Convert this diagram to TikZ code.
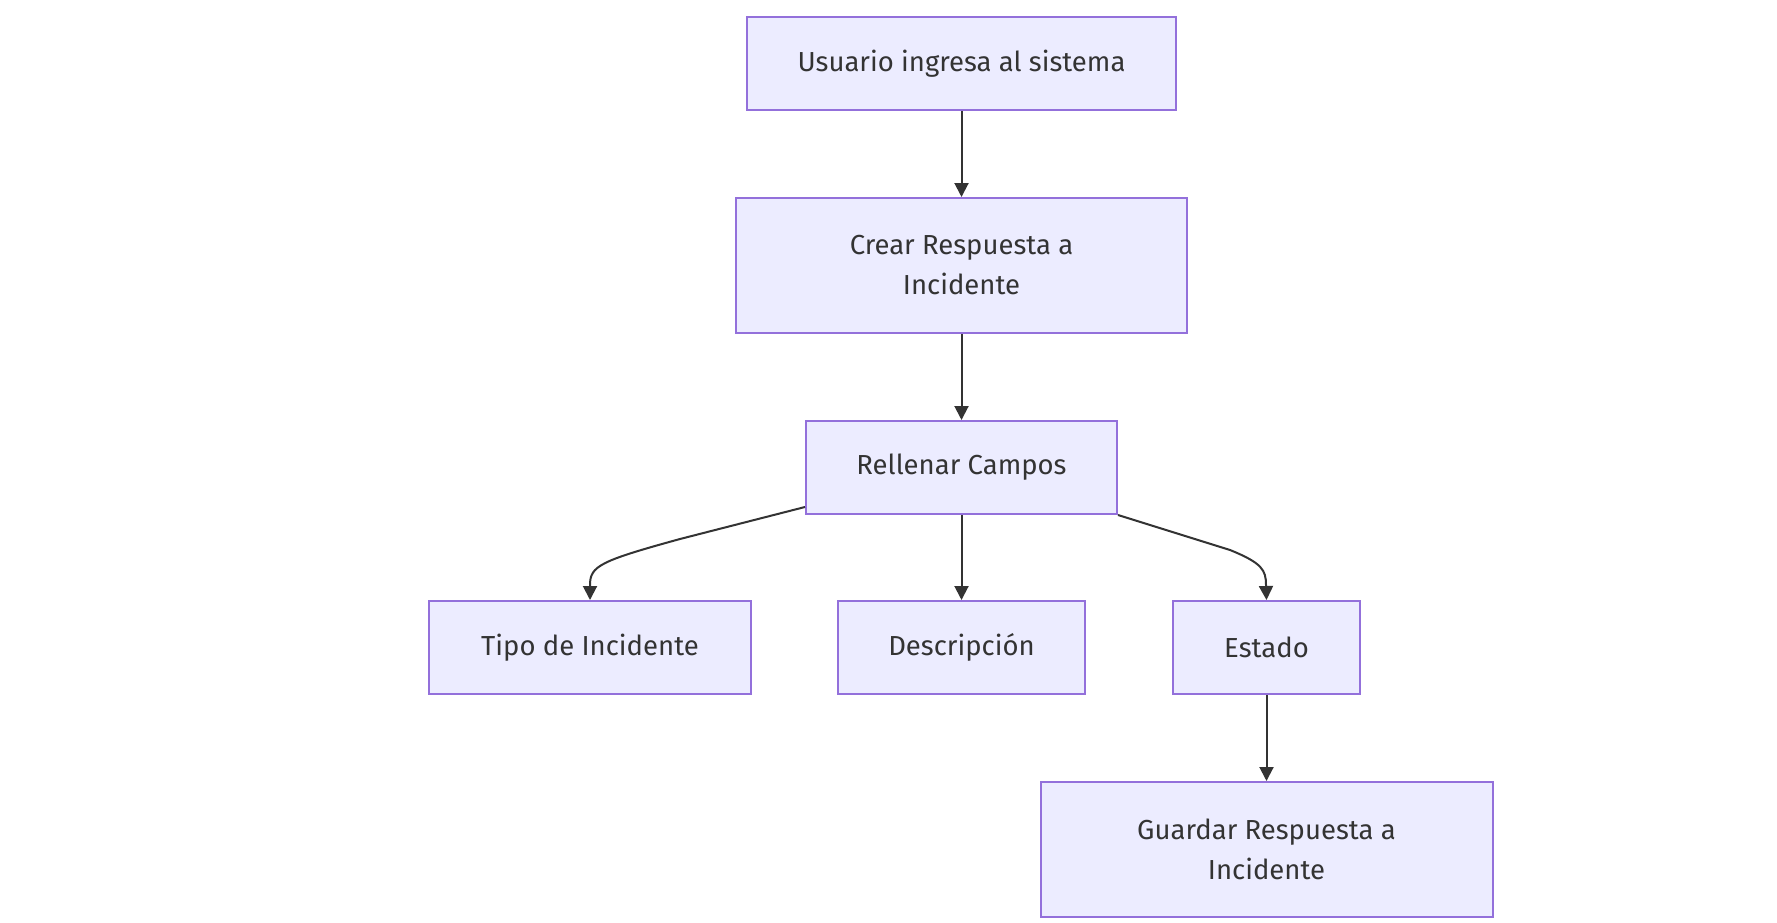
\documentclass[tikz,border=0pt]{standalone}
\usepackage{fontspec}
\setmainfont{Fira Sans}
\usetikzlibrary{arrows.meta}
\definecolor{nodefill}{HTML}{ECECFF}
\definecolor{nodeline}{HTML}{9370DB}
\definecolor{edgecol}{HTML}{333333}
\tikzset{
  box/.style={draw=nodeline, fill=nodefill, line width=2pt, inner sep=0pt, align=center,
    text=edgecol, font=\fontsize{27.5}{40}\selectfont},
  edge/.style={draw=edgecol, line width=2pt, -{Triangle[length=14pt,width=14pt]}}
}
\begin{document}
\begin{tikzpicture}[x=1pt,y=-1pt]
\useasboundingbox (0,0) rectangle (1777,923);
\node[box, minimum width=429pt, minimum height=93pt] (U) at (961.5,63.5) {Usuario ingresa al sistema};
\node[box, minimum width=451pt, minimum height=135pt] (C) at (961.5,265.5) {Crear Respuesta a\\Incidente};
\node[box, minimum width=311pt, minimum height=93pt] (R) at (961.5,467.5) {Rellenar Campos};
\node[box, minimum width=322pt, minimum height=93pt] (T) at (590,647.5) {Tipo de Incidente};
\node[box, minimum width=247pt, minimum height=93pt] (D) at (961.5,647.5) {Descripción};
\node[box, minimum width=187pt, minimum height=93pt] (E) at (1266.5,647.5) {Estado};
\node[box, minimum width=452pt, minimum height=135pt] (G) at (1266.5,849.5) {Guardar Respuesta a\\Incidente};
\draw[edge] (U) -- (C);
\draw[edge] (C) -- (R);
\draw[edge] (R) -- (D);
\draw[edge] (E) -- (G);
\draw[edge] ([yshift=8pt]R.south west) -- (680,539) .. controls (600,561) and (590,566) .. (590,585) -- (T.north);
\draw[edge] (R.south east) -- (1230,550) .. controls (1262,563) and (1266,570) .. (1266,585) -- (E.north);
\end{tikzpicture}
\end{document}
